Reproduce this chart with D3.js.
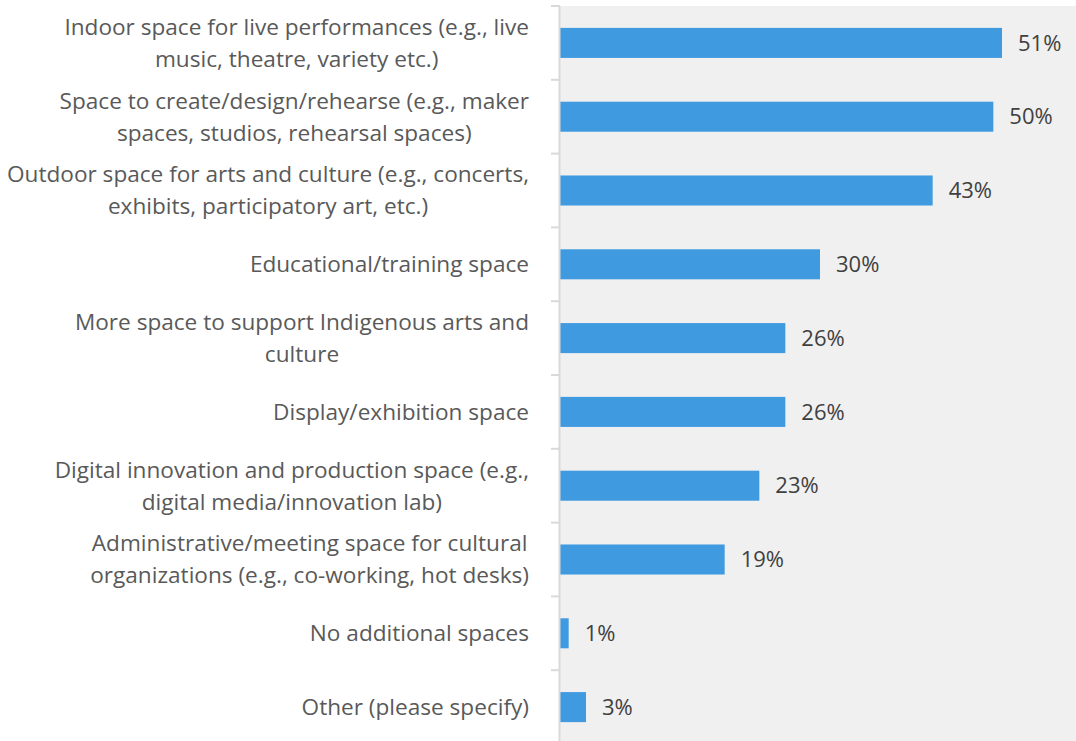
<!DOCTYPE html>
<html>
<head>
<meta charset="utf-8">
<script src="https://cdn.jsdelivr.net/npm/d3@7"></script>
<style>
  html, body { margin: 0; padding: 0; background: #ffffff; }
  svg { display: block; }
  text { font-family: "Open Sans", "Noto Sans", sans-serif; }
</style>
</head>
<body>
<svg id="chart" width="1076" height="741"></svg>
<script>
// Survey responses: additional spaces needed (share of respondents)
const categories = [
  "Indoor space for live performances (e.g., live\nmusic, theatre, variety etc.)",
  "Space to create/design/rehearse (e.g., maker\nspaces, studios, rehearsal spaces)",
  "Outdoor space for arts and culture (e.g., concerts,\nexhibits, participatory art, etc.)",
  "Educational/training space",
  "More space to support Indigenous arts and\nculture",
  "Display/exhibition space",
  "Digital innovation and production space (e.g.,\ndigital media/innovation lab)",
  "Administrative/meeting space for cultural\norganizations (e.g., co-working, hot desks)",
  "No additional spaces",
  "Other (please specify)"
];
const values = [51, 50, 43, 30, 26, 26, 23, 19, 1, 3];
const valueLabels = ["51%", "50%", "43%", "30%", "26%", "26%", "23%", "19%", "1%", "3%"];

const svg = d3.select("#chart");
const W = 1076, H = 741;
const plotLeft = 560, plotTop = 6;
const step = 73.8;
const pad = 0.593;

const x = d3.scaleLinear().domain([0, 60]).range([plotLeft, plotLeft + 520]);
const y = d3.scaleBand()
  .domain(categories)
  .range([plotTop, plotTop + step * categories.length])
  .paddingInner(pad)
  .paddingOuter(pad / 2);

// plot background
svg.append("rect")
  .attr("x", plotLeft).attr("y", plotTop)
  .attr("width", W - plotLeft).attr("height", H - plotTop)
  .attr("fill", "#f0f0f0");

// bars
svg.append("g").selectAll("rect")
  .data(values)
  .join("rect")
  .attr("x", x(0))
  .attr("y", (d, i) => y(categories[i]))
  .attr("width", d => x(d) - x(0))
  .attr("height", y.bandwidth())
  .attr("fill", "#3f9ae0");

// category axis line and boundary ticks
const boundaries = d3.range(categories.length + 1).map(i => plotTop + i * y.step());
const axisG = svg.append("g");
axisG.append("line")
  .attr("x1", plotLeft - 0.5).attr("x2", plotLeft - 0.5)
  .attr("y1", plotTop).attr("y2", H)
  .attr("stroke", "#d9d9d9").attr("stroke-width", 2);
axisG.selectAll("line.tick")
  .data(boundaries)
  .join("line")
  .attr("class", "tick")
  .attr("x1", plotLeft - 9).attr("x2", plotLeft)
  .attr("y1", d => d).attr("y2", d => d)
  .attr("stroke", "#d9d9d9").attr("stroke-width", 2);

// category labels: block right-aligned to the axis, lines centred within block
const labelRight = 529;
const lineGap = 32;
const fontSize = 22.6;
const labelG = svg.append("g");
categories.forEach((cat, i) => {
  const lines = cat.split("\n");
  const cy = y(cat) + y.bandwidth() / 2;
  const t = labelG.append("text")
    .attr("font-size", fontSize)
    .attr("fill", "#595959")
    .attr("text-anchor", "middle");
  const spans = lines.map((ln, k) =>
    t.append("tspan")
      .attr("y", cy + (k - (lines.length - 1) / 2) * lineGap)
      .attr("dy", "0.35em")
      .text(ln));
  const maxW = d3.max(spans, s => s.node().getComputedTextLength());
  spans.forEach(s => s.attr("x", labelRight - maxW / 2));
});

// value labels
svg.append("g").selectAll("text")
  .data(values)
  .join("text")
  .attr("x", d => x(d) + 16)
  .attr("y", (d, i) => y(categories[i]) + y.bandwidth() / 2)
  .attr("dy", "0.35em")
  .attr("font-size", 22)
  .attr("fill", "#404040")
  .text((d, i) => valueLabels[i]);
</script>
</body>
</html>
